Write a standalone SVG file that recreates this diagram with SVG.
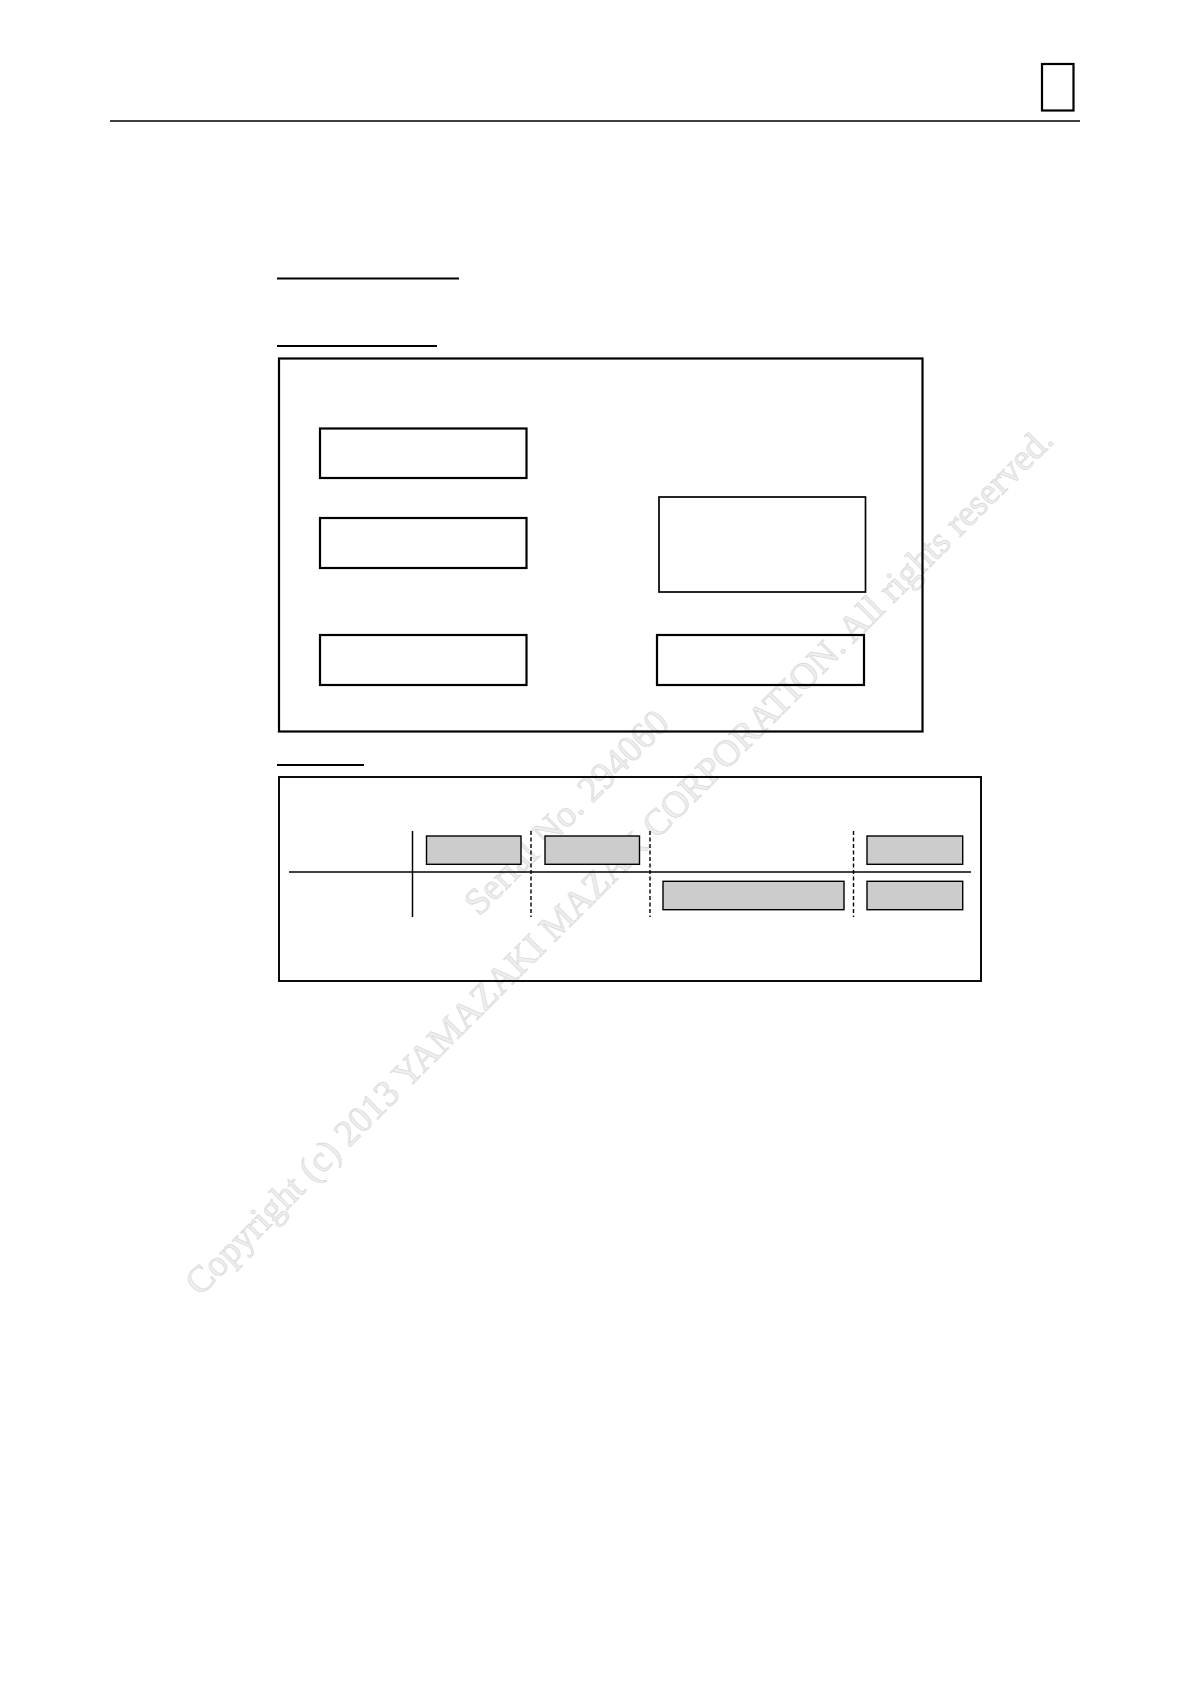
<svg xmlns="http://www.w3.org/2000/svg" width="1191" height="1684" viewBox="0 0 1191 1684">
<style>
.box{fill:none;stroke:#000;stroke-width:2.2}
.gbox{fill:#cccccc;stroke:#000;stroke-width:1.4}
.ln{stroke:#000;stroke-width:1.5;fill:none}
.dash{stroke:#000;stroke-width:1.4;stroke-dasharray:4 2.5;fill:none}
.wm{font-family:"Liberation Serif","Times New Roman",serif;font-size:37.2px;fill:#eeeeee;stroke:#d9d9d9;stroke-width:0.7}
</style>
<rect width="1191" height="1684" fill="#fff"/>
<g id="watermark">
<text class="wm" transform="translate(200,1297) rotate(-45)">Copyright (c) 2013 YAMAZAKI MAZAK CORPORATION. All rights reserved.</text>
<text class="wm" transform="translate(479,917) rotate(-45)">Serial No. 294060</text>
</g>
<g id="header">
<line class="ln" x1="110" y1="121" x2="1080" y2="121" style="stroke-width:1.3"/>
<rect class="box" x="1042" y="64" width="31.5" height="46.5"/>
</g>
<g id="underlines">
<line class="ln" x1="277" y1="278.5" x2="459" y2="278.5" style="stroke-width:1.8"/>
<line class="ln" x1="277" y1="346" x2="437" y2="346" style="stroke-width:1.8"/>
<line class="ln" x1="277" y1="765" x2="364" y2="765" style="stroke-width:2"/>
</g>
<g id="panel1">
<rect class="box" x="279" y="358.5" width="643.5" height="373"/>
</g>
<g id="nodeA"><rect class="box" x="320" y="428.5" width="206.5" height="49.5"/></g>
<g id="nodeB"><rect class="box" x="320" y="518" width="206.5" height="50"/></g>
<g id="nodeC"><rect class="box" x="320" y="635" width="206.5" height="50"/></g>
<g id="nodeD"><rect class="box" x="659" y="497" width="206.5" height="95" style="stroke-width:1.7"/></g>
<g id="nodeE"><rect class="box" x="657" y="635" width="207" height="50"/></g>
<g id="panel2">
<rect class="box" x="279" y="777" width="702" height="204" style="stroke-width:1.9"/>
</g>
<g id="connectors">
<line class="ln" x1="289" y1="872" x2="971" y2="872"/>
<line class="ln" x1="412.5" y1="831" x2="412.5" y2="917"/>
<line class="dash" x1="531" y1="831" x2="531" y2="917"/>
<line class="dash" x1="650" y1="831" x2="650" y2="917"/>
<line class="dash" x1="853.5" y1="831" x2="853.5" y2="917"/>
</g>
<g id="bar1"><rect class="gbox" x="426.5" y="836" width="94.5" height="28.3"/></g>
<g id="bar2"><rect class="gbox" x="545" y="836" width="94.5" height="28.3"/></g>
<g id="bar3"><rect class="gbox" x="663" y="881.3" width="181" height="28.4"/></g>
<g id="bar4"><rect class="gbox" x="867" y="836" width="95.7" height="28.3"/></g>
<g id="bar5"><rect class="gbox" x="867" y="881.3" width="95.7" height="28.4"/></g>
</svg>
